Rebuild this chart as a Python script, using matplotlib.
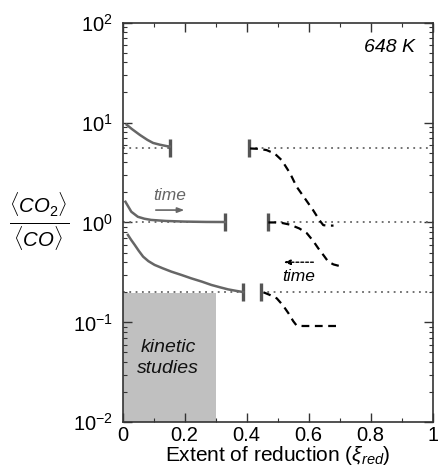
import numpy as np
import matplotlib.pyplot as plt
from matplotlib.ticker import FixedLocator, MultipleLocator

plt.rcParams['font.family'] = ['Liberation Sans', 'DejaVu Sans']
plt.rcParams['mathtext.fontset'] = 'custom'
plt.rcParams['mathtext.rm'] = 'Liberation Sans'
plt.rcParams['mathtext.it'] = 'Liberation Sans:italic'

# equilibrium CO2/CO levels and where each branch ends
levels = [5.6, 1.0, 0.2]
left_end = [0.152, 0.33, 0.389]
right_start = [0.408, 0.468, 0.446]

# solid curves (gray), approaching each level from the left
top_x = [0.013, 0.03, 0.056, 0.08, 0.098, 0.12, 0.143, 0.152]
top_y = [9.5, 8.6, 7.5, 6.7, 6.25, 6.0, 5.8, 5.75]
mid_x = [0.009, 0.028, 0.049, 0.07, 0.092, 0.14, 0.2, 0.27, 0.33]
mid_y = [1.61, 1.28, 1.14, 1.09, 1.06, 1.035, 1.02, 1.012, 1.01]
bot_x = [0.017, 0.028, 0.039, 0.052, 0.066, 0.083, 0.103, 0.13, 0.157, 0.19, 0.221,
         0.255, 0.286, 0.315, 0.34, 0.365, 0.389]
bot_y = [0.75, 0.665, 0.596, 0.52, 0.455, 0.41, 0.376, 0.347, 0.322, 0.298, 0.276,
         0.256, 0.237, 0.224, 0.214, 0.207, 0.201]

# dashed curves (black), leaving each level to the right
dtop_x = [0.411, 0.44, 0.464, 0.49, 0.513, 0.54, 0.561, 0.59, 0.614, 0.635, 0.647, 0.66, 0.68]
dtop_y = [5.5, 5.45, 5.3, 4.9, 4.2, 3.1, 2.28, 1.7, 1.33, 1.05, 0.94, 0.93, 0.93]
dmid_x = [0.47, 0.49, 0.513, 0.54, 0.57, 0.594, 0.615, 0.631, 0.65, 0.663, 0.68, 0.70]
dmid_y = [1.0, 1.0, 0.99, 0.95, 0.87, 0.78, 0.65, 0.55, 0.46, 0.405, 0.38, 0.366]
dbot_x = [0.454, 0.475, 0.497, 0.517, 0.535, 0.55, 0.561, 0.58, 0.62, 0.66, 0.70]
dbot_y = [0.2, 0.188, 0.174, 0.148, 0.123, 0.103, 0.093, 0.092, 0.092, 0.092, 0.092]

kinetic_x = [0.0, 0.3]
kinetic_top = 0.195

fig = plt.figure(figsize=(4.38, 4.71), dpi=100)
ax = fig.add_axes([0.280, 0.1034, 0.708, 0.8486])

ax.set_yscale('log')
ax.set_xlim(0, 1)
ax.set_ylim(1e-2, 1e2)

gray = '#666666'
ax.fill_between(kinetic_x, 1e-2, kinetic_top, color='#c0c0c0', lw=0, zorder=0)
ax.text(0.147, 0.044, 'kinetic\nstudies', ha='center', va='center',
        style='italic', fontsize=14, linespacing=1.25, color='#111111')

# dotted equilibrium lines, broken between the two bars
for lv, le, rs in zip(levels, left_end, right_start):
    ax.plot([0, le], [lv, lv], ls=(0, (1, 2.5)), color=gray, lw=1.3)
    ax.plot([rs, 1], [lv, lv], ls=(0, (1, 2.5)), color=gray, lw=1.3)
    for xb in (le, rs):
        ax.plot([xb, xb], [lv / 1.23, lv * 1.23], color='#555555', lw=2.4,
                solid_capstyle='butt')

for xs, ys in [(top_x, top_y), (mid_x, mid_y), (bot_x, bot_y)]:
    ax.plot(xs, ys, color=gray, lw=1.8)

for xs, ys in [(dtop_x, dtop_y), (dmid_x, dmid_y), (dbot_x, dbot_y)]:
    ax.plot(xs, ys, color='black', lw=1.6, ls=(0, (3.5, 2.5)))

ax.text(0.153, 1.84, 'time', ha='center', va='center', style='italic',
        fontsize=12.5, color=gray)
ax.annotate('', xy=(0.208, 1.33), xytext=(0.098, 1.33),
            arrowprops=dict(arrowstyle='-|>,head_length=0.4,head_width=0.15',
                            color=gray, lw=1.2))
ax.text(0.569, 0.286, 'time', ha='center', va='center', style='italic',
        fontsize=12.5, color='black')
ax.annotate('', xy=(0.51, 0.40), xytext=(0.624, 0.40),
            arrowprops=dict(arrowstyle='-|>,head_length=0.4,head_width=0.15',
                            color='black', lw=1.0, ls=(0, (2, 1.5))))

ax.text(0.943, 55.8, '648 K', ha='right', va='center', style='italic',
        fontsize=14)

ax.xaxis.set_major_locator(FixedLocator([0, 0.2, 0.4, 0.6, 0.8, 1.0]))
ax.xaxis.set_minor_locator(MultipleLocator(0.1))
ax.set_xticklabels(['0', '0.2', '0.4', '0.6', '0.8', '1'])
ax.tick_params(which='both', direction='in', top=True, right=True,
               labelsize=14.5, color='#333333')
ax.tick_params(which='major', length=6.5, width=1)
ax.tick_params(which='minor', length=3, width=0.8)
ax.tick_params(axis='y', pad=7)
ax.tick_params(axis='x', pad=3)
for s in ax.spines.values():
    s.set_color('#333333')
    s.set_linewidth(1.2)

ax.set_xlabel(r'Extent of reduction ($\xi_{red}$)', fontsize=15, labelpad=-1)
fig.text(0.09, 0.527, r'$\frac{\langle CO_2\rangle}{\langle CO\rangle}$',
         ha='center', va='center', fontsize=21)

fig.savefig('out.png', dpi=100)
